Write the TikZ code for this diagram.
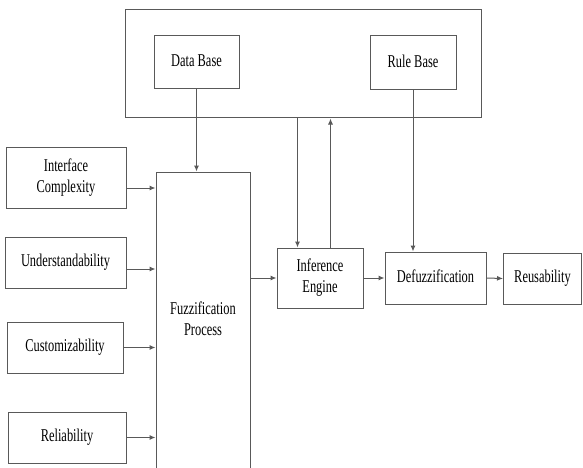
\documentclass[tikz,border=0pt]{standalone}
\usepackage{fontspec}
\setmainfont{Liberation Serif}
\usetikzlibrary{arrows.meta}
\newcommand{\lbl}[1]{\raisebox{4pt}{\scalebox{0.69}[1]{#1}}}
\newcommand{\lbll}[1]{\raisebox{1pt}{\scalebox{0.69}[1]{\begin{tabular}{@{}c@{}}#1\end{tabular}}}}

\begin{document}
\begin{tikzpicture}[x=1pt,y=-1pt]
			\tikzstyle{every node}+=[inner sep=0pt]
			\tikzstyle{blk}=[draw=black!65, line width=1pt, align=center, font=\fontsize{18}{21}\selectfont]
			\tikzstyle{arr}=[draw=black!65, line width=1pt, -{Latex[length=6pt,width=5pt]}]
			\useasboundingbox (0,0) rectangle (583,468);
			\node [blk, minimum width=356pt, minimum height=108pt] (kb) at (303,64) {};
			\node [blk, minimum width=85pt, minimum height=53pt] (db) at (196.5,62.5) {\lbl{Data Base}};
			\node [blk, minimum width=86pt, minimum height=54pt] (rb) at (413,63) {\lbl{Rule Base}};
			\node [blk, minimum width=120pt, minimum height=61pt] (ic) at (66,177.5) {\lbll{Interface\\Complexity}};
			\node [blk, minimum width=121pt, minimum height=51pt] (un) at (65.5,262.5) {\lbl{Understandability}};
			\node [blk, minimum width=116pt, minimum height=51pt] (cu) at (65,347.5) {\lbl{Customizability}};
			\node [blk, minimum width=118pt, minimum height=51pt] (rl) at (67,437.5) {\lbl{Reliability}};
			\node [blk, minimum width=94pt, minimum height=298pt] (fp) at (203,321) {\lbll{Fuzzification\\Process}};
			\node [blk, minimum width=86pt, minimum height=60pt] (ie) at (320,278) {\lbll{Inference\\Engine}};
			\node [blk, minimum width=101pt, minimum height=52pt] (df) at (435.5,278) {\lbl{Defuzzification}};
			\node [blk, minimum width=78pt, minimum height=51pt] (ru) at (542.5,278.5) {\lbl{Reusability}};
			\coordinate (icout) at ([yshift=-10.5pt]ic.east);
			\coordinate (unout) at ([yshift=-6.5pt]un.east);
			\coordinate (ieinL) at ([xshift=21pt]ie.north west);
			\coordinate (ieoutR) at ([xshift=-33pt]ie.north east);
			\draw [arr] (icout) -- (icout -| fp.west);
			\draw [arr] (unout) -- (unout -| fp.west);
			\draw [arr] (cu.east) -- (cu.east -| fp.west);
			\draw [arr] (rl.east) -- (rl.east -| fp.west);
			\draw [arr] (db.south) -- (db.south |- fp.north);
			\draw [arr] (ieinL |- kb.south) -- (ieinL);
			\draw [arr] (ieoutR) -- (ieoutR |- kb.south);
			\draw [arr] (rb.south) -- (rb.south |- df.north);
			\draw [arr] (fp.east |- ie.west) -- (ie.west);
			\draw [arr] (ie.east) -- (df.west);
			\draw [arr] (df.east) -- (ru.west);
		\end{tikzpicture}
\end{document}
